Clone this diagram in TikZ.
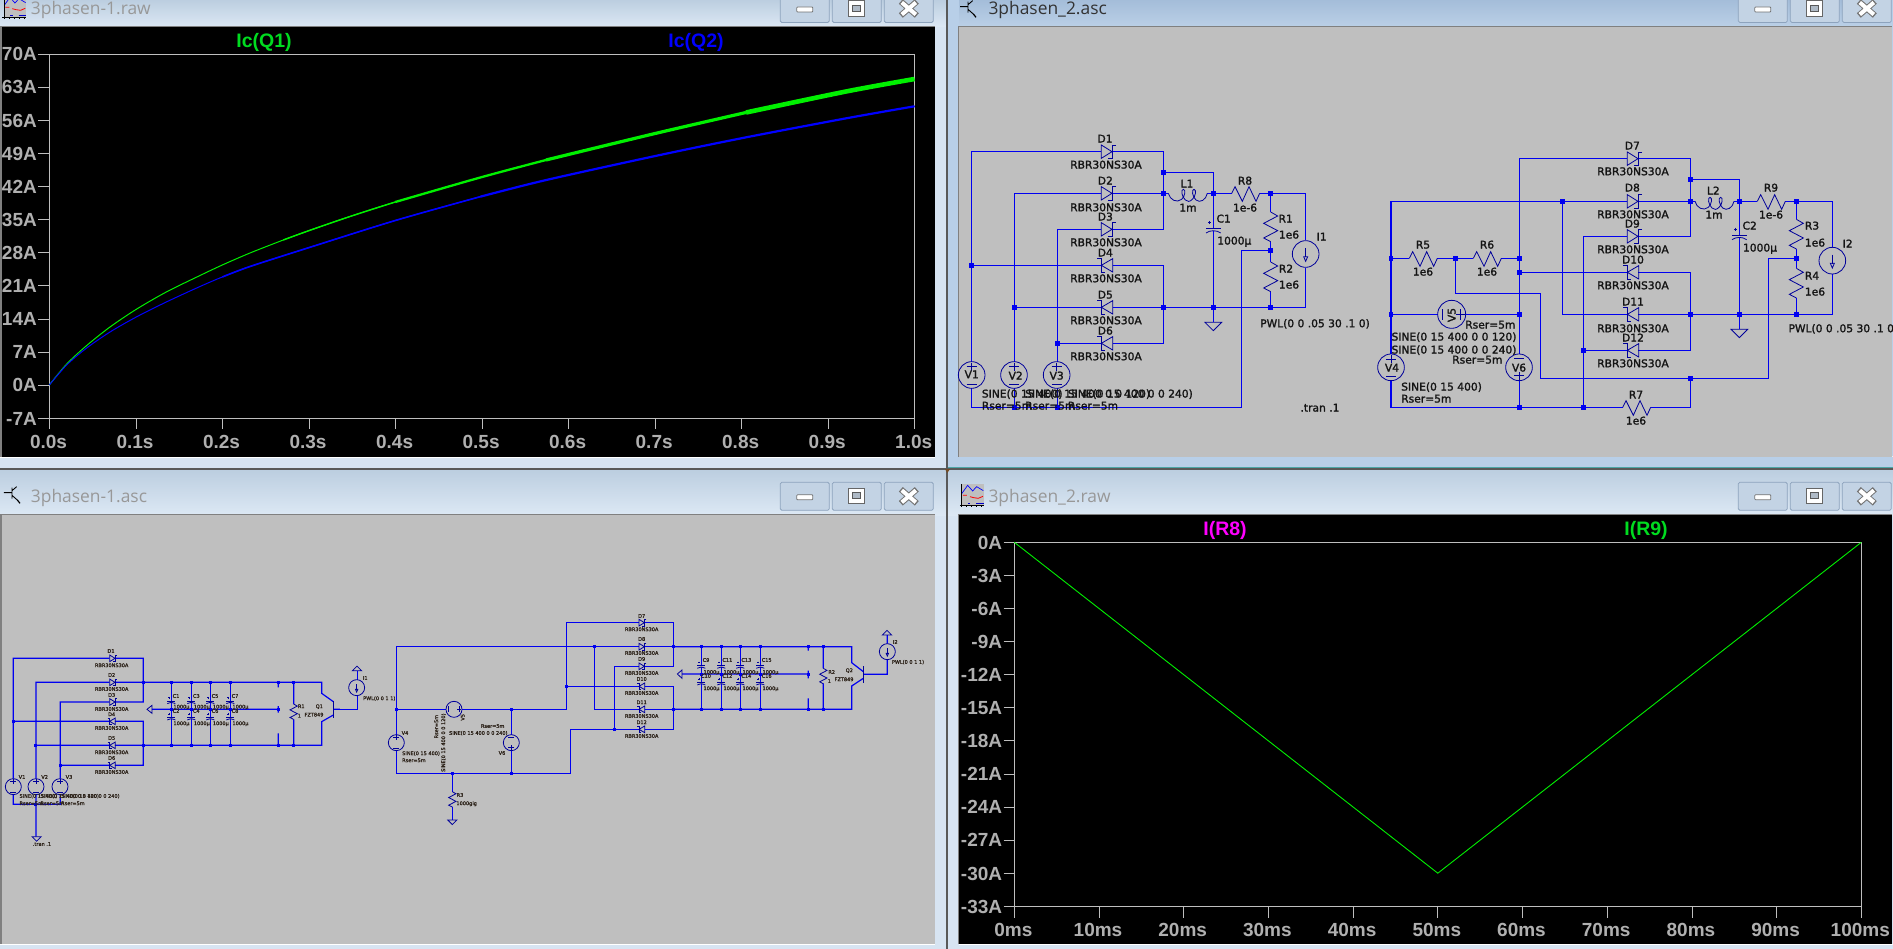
\documentclass[tikz,border=0pt]{standalone}
\usepackage{fontspec}
\setmainfont{Liberation Sans}
\newfontfamily\schfont[FakeBold=1.6]{DejaVu Sans}
\newfontfamily\tifont{Open Sans}
\definecolor{frameL}{HTML}{D7E4F2}
\definecolor{frameA}{HTML}{B8CFE8}
\definecolor{tbTop}{HTML}{BCCEE0}
\definecolor{tbBot}{HTML}{DCE8F4}
\definecolor{taTop}{HTML}{A4BDD9}
\definecolor{taBot}{HTML}{BBD0E7}
\definecolor{schbg}{HTML}{BFBFBF}
\definecolor{wireb}{HTML}{0000F0}
\definecolor{symb}{HTML}{00009A}
\definecolor{axisg}{HTML}{BEBEBE}
\definecolor{labg}{HTML}{B0B0B0}
\definecolor{tgreen}{HTML}{00DC20}
\definecolor{pgreen}{HTML}{00F000}
\definecolor{tmag}{HTML}{FF00FF}
\definecolor{txtd}{HTML}{141414}
\definecolor{btnf}{HTML}{C3D3E4}
\definecolor{btnb}{HTML}{8DA3BD}
\definecolor{ttlg}{HTML}{989898}
\newcounter{tn}
\tikzset{
 wire/.style={draw=wireb,line width=1.2pt},
 sym/.style={draw=symb,line width=0.8pt},
 jct/.style={rectangle,fill=wireb,inner sep=0pt,minimum size=4.4pt},
 jcts/.style={rectangle,fill=wireb,inner sep=0pt,minimum size=3pt},
 schtxt/.style={inner sep=0pt,text=txtd,font=\schfont\fontsize{10.7}{12}\selectfont,text height=7.8pt,text depth=0pt},
 smtxt/.style={inner sep=0pt,text=txtd!85!brown,font=\schfont\fontsize{5}{6}\selectfont,text height=3.6pt,text depth=0pt},
 ylab/.style={inner sep=0pt,anchor=east,text=labg,font=\bfseries\fontsize{19}{20}\selectfont,text height=13.6pt,text depth=0pt},
 xlab/.style={inner sep=0pt,anchor=center,text=labg,font=\bfseries\fontsize{19}{20}\selectfont,text height=13.6pt,text depth=0pt},
 ttl/.style={inner sep=0pt,font=\bfseries\fontsize{19.5}{21}\selectfont,text height=14pt,text depth=0pt},
 axisl/.style={draw=axisg,line width=0.8pt},
 wintitle/.style={inner sep=0pt,anchor=west,font=\tifont\fontsize{17.4}{20}\selectfont},
}
\newcommand\TT[4]{\stepcounter{tn}\node[#1] (t\arabic{tn}) at (#2,#3) {#4};}
\newcommand\JJ[2]{\foreach \p in {#2} {\stepcounter{tn}\node[#1] (j\arabic{tn}) at \p {};}}
\newcommand\DF[3]{\begin{scope}[shift={(#2,#3)},scale=#1]
 \draw[sym] (0,-20)--(32,0)--(0,20)--cycle;
 \draw[sym] (44,-20)--(32,-20)--(32,20)--(20,20);
 \end{scope}}
\newcommand\DR[3]{\begin{scope}[shift={(#2,#3)},scale=#1]
 \draw[sym] (34,-20)--(0,0)--(34,20)--cycle;
 \draw[sym] (-12,-20)--(0,-20)--(0,20)--(12,20);
 \end{scope}}
\newcommand\RH[2]{\draw[sym] (#1,#2)++(0,0) -- ++(10,-20) -- ++(22,44) -- ++(20,-44) -- ++(21,44) -- ++(11,-24);}
\newcommand\RV[3]{\begin{scope}[shift={(#2,#3)},scale=#1]
 \draw[sym] (0,0)--(21,12)--(-21,34)--(21,56)--(-21,78)--(0,89);
 \end{scope}}
\newcommand\CP[3]{\begin{scope}[shift={(#2,#3)},scale=#1]
 \draw[sym] (-22,0)--(22,0);
 \draw[sym] (-22,14) .. controls (-10,5) and (10,5) .. (22,14);
 \draw[sym] (-16,-17)--(-6,-17) (-11,-22)--(-11,-12);
 \end{scope}}
\newcommand\GN[4]{\begin{scope}[shift={(#2,#3)},scale=#1]
 \draw[sym] (-25,0)--(25,0)--(0,#4)--cycle;
 \end{scope}}
% voltage source: scale, x, y, rotation
\newcommand\VS[4]{\begin{scope}[shift={(#2,#3)},rotate=#4,scale=#1]
 \draw[sym] (0,0) circle (40);
 \draw[sym] (-15,-25)--(15,-25) (0,-37)--(0,-13);
 \draw[sym] (-15,27)--(15,27);
 \end{scope}}
\newcommand\IS[3]{\begin{scope}[shift={(#2,#3)},scale=#1]
 \draw[sym] (0,0) circle (40);
 \draw[sym] (0,-18)--(0,10);
 \draw[sym] (-6,8)--(6,8)--(0,22)--cycle;
 \end{scope}}
\newcommand\LL[2]{\begin{scope}[shift={(#1,#2)}]
 \draw[sym] (0,0) .. controls (5,20) and (25,30) .. (40,18) .. controls (50,10) and (53,-12) .. (45,-12) .. controls (37,-12) and (40,10) .. (51,20) .. controls (58,26) and (64,26) .. (72,18) .. controls (82,10) and (85,-12) .. (77,-12) .. controls (69,-12) and (72,10) .. (83,20) .. controls (95,30) and (113,20) .. (117,0);
 \end{scope}}
\newcommand\Btns[1]{\begin{scope}[shift={(0,#1)}]
 \foreach \bx/\kind in {0/0,52/1,104/2}{
  \draw[fill=btnf,draw=btnb,line width=0.8pt,rounded corners=1.5pt] (\bx,0) rectangle (\bx+49,28);
 }
 \draw[fill=white,draw=gray!90!black,line width=0.8pt,rounded corners=0.8pt] (16.5,12.5) rectangle (32.5,17.5);
 \draw[fill=white,draw=gray!80!black,line width=0.9pt] (68,6) rectangle (84,21.5);
 \draw[fill=btnf!70!gray,draw=gray!70!black,line width=0.9pt] (72,10.5) rectangle (80,16.5);
 \draw[draw=gray!90!black,line width=6pt] (120.5,7) -- (136.5,21) (136.5,7) -- (120.5,21);
 \draw[draw=white,line width=4pt] (121.5,8) -- (135.5,20) (135.5,8) -- (121.5,20);
 \end{scope}}
\newcommand\WaveIcon[2]{\begin{scope}[shift={(#1,#2)},x=0.3333pt,y=-0.3333pt]
 \fill[schbg] (785,312) rectangle (852,376);
 \draw[draw=blue,line width=0.7pt] (786,340)--(803,316)--(818,333)--(830,320)--(850,332);
 \draw[draw=red,line width=0.8pt] (789,346)--(801,346) (810,350)--(821,353)--(835,355)--(849,349);
 \draw[draw=blue!80!black,line width=0.9pt] (804,369)--(811,369) (829,370)--(851,370);
 \draw[draw=black,line width=0.6pt] (785,312)--(785,381) (780,376)--(852,376) (800,376)--(800,381) (815,376)--(815,381) (830,376)--(830,381) (845,376)--(845,381);
 \end{scope}}
\newcommand\TrIcon[2]{\begin{scope}[shift={(#1,#2)},x=0.3333pt,y=-0.3333pt]
 \draw[draw=black,line width=0.9pt] (30,20)--(52,20) (54,5)--(54,38) (54,14)--(68,2) (54,28)--(72,44);
 \draw[draw=black,line width=1.2pt] (70,42)--(78,52);
 \end{scope}}
\begin{document}
\begin{tikzpicture}[x=1pt,y=-1pt]
\useasboundingbox (0,0) rectangle (1893,949);
\fill[frameL] (0,0) rectangle (1893,949);
% ---------- window chrome
\shade[top color=tbTop,bottom color=tbBot] (0,0) rectangle (946,27);
\shade[top color=taTop,bottom color=taBot] (948,0) rectangle (1893,27);
\fill[frameA] (948,0) rectangle (959,467);
\fill[frameA] (1891,0) rectangle (1893,467);
\fill[frameA] (948,457) rectangle (1893,467);
\fill[white!70!frameA] (959,456.3) rectangle (1893,457.3);
\draw[draw=teal!70!white,line width=0.8pt] (948,467) -- (1893,467);
\shade[top color=tbTop,bottom color=tbBot] (0,470) rectangle (946,515);
\shade[top color=tbTop,bottom color=tbBot] (948,470) rectangle (1893,515);
\fill[gray!70!black] (0,468) rectangle (1893,470);
\fill[gray!70!black] (946.2,0) rectangle (948.2,949);
\fill[brown!60!black] (945,469) -- (950,469) -- (947.3,473) -- cycle;
% panes
\fill[black] (2,27) rectangle (935,456.5);
\fill[schbg] (959,27) rectangle (1891.5,456.5);
\fill[schbg] (2,515) rectangle (935,944);
\fill[black] (959,515) rectangle (1892,944);
\foreach \ax/\ay/\bx/\by in {0/26/935/27,958/26/1891.5/27,0/514/935/515,958/514/1892/515}{\fill[gray] (\ax,\ay) rectangle (\bx,\by);}
\fill[gray] (0,27) rectangle (2,456.5);
\fill[gray] (0,515) rectangle (2,944);
\fill[gray] (958,27) rectangle (959,456.5);
\fill[gray] (958,515) rectangle (959,944);
\fill[white] (0,456.5) rectangle (935,458);
\fill[white] (0,944) rectangle (935,945.3);
\fill[white] (959,944) rectangle (1893,945.3);
% titles
\WaveIcon{-257.7}{-108}
\node[wintitle,text=ttlg] (title1) at (30.7,10) {3phasen-1.raw};
\TrIcon{950}{0}
\node[wintitle,text=black!80] (title2) at (988.3,10) {3phasen\_2.asc};
\TrIcon{-6}{486}
\node[wintitle,text=ttlg] (title3) at (30.7,498) {3phasen-1.asc};
\WaveIcon{700}{380}
\node[wintitle,text=ttlg] (title4) at (988.3,498) {3phasen\_2.raw};
\begin{scope}[shift={(780.3,-5.5)}]\Btns{0}\end{scope}
\begin{scope}[shift={(1738.3,-5.5)}]\Btns{0}\end{scope}
\begin{scope}[shift={(780.3,482.3)}]\Btns{0}\end{scope}
\begin{scope}[shift={(1738.3,482.3)}]\Btns{0}\end{scope}

% ---------- plot 1
\draw[axisl] (49.5,54) rectangle (914.7,418.3);
\foreach \v [count=\i from 0] in {70A,63A,56A,49A,42A,35A,28A,21A,14A,7A,0A,-7A}{
 \pgfmathsetmacro\yy{54+\i*33.12}
 \draw[axisl] (38.3,\yy) -- (49.5,\yy);
 \node[ylab] (pa\i) at (37,\yy) {\v};
}
\foreach \v [count=\i from 0] in {0.0s,0.1s,0.2s,0.3s,0.4s,0.5s,0.6s,0.7s,0.8s,0.9s,1.0s}{
 \pgfmathsetmacro\xx{49.5+\i*86.52}
 \draw[axisl] (\xx,418.3) -- (\xx,429.3);
 \node[xlab] (pb\i) at (\xx-1,441.7) {\v};
}
\node[ttl,text=tgreen] (ic1) at (264,40.7) {Ic(Q1)};
\node[ttl,text=blue] (ic2) at (696,40.7) {Ic(Q2)};
\draw[draw=pgreen,line width=1pt,line join=round] plot[smooth] coordinates {(49.3,385)(66.7,364)(86.7,345.5)(110,327)(136.3,309.3)(166.3,292)(200,275.5)(222.3,265)(250,253)(283.3,240)(309.3,230.5)(350,216.5)(395.3,202)(480.3,177.5)(546,160)(653,134)(746,112.5)(846,91.5)(914.5,79)};
\draw[draw=pgreen,line width=1.4pt] plot[smooth] coordinates {(283.3,240)(309.3,230.5)(350,216.5)(395.3,202)};
\draw[draw=pgreen,line width=2.3pt] plot[smooth] coordinates {(395.3,202)(480.3,177.5)(546,160)};
\draw[draw=pgreen,line width=3.2pt] plot[smooth] coordinates {(546,160)(653,134)(746,112.5)};
\draw[draw=pgreen,line width=4.6pt] plot[smooth] coordinates {(746,112.5)(846,91.5)(914.5,79)};
\draw[draw=blue,line width=1pt] plot[smooth] coordinates {(49.3,385)(66.7,365)(86.7,348)(110,332)(136.3,317)(166.3,302)(200,286.5)(222.3,277)(250,266.5)(309.3,247.5)(395.3,220.5)(480.3,196.7)(546.3,180)(660,155)(746.3,137.3)(846.3,118.3)(914.5,106.3)};
\draw[draw=blue,line width=1.6pt] plot[smooth] coordinates {(222.3,277)(250,266.5)(309.3,247.5)(395.3,220.5)(480.3,196.7)};
\draw[draw=blue,line width=2.2pt] plot[smooth] coordinates {(480.3,196.7)(546.3,180)(660,155)(746.3,137.3)(846.3,118.3)(914.5,106.3)};

% ---------- plot 2
\draw[axisl] (1014.3,542.3) rectangle (1861.3,906.3);
\foreach \v [count=\i from 0] in {0A,-3A,-6A,-9A,-12A,-15A,-18A,-21A,-24A,-27A,-30A,-33A}{
 \pgfmathsetmacro\yy{542.3+\i*33.09}
 \draw[axisl] (1003.5,\yy) -- (1014.3,\yy);
 \node[ylab] (qa\i) at (1002.3,\yy) {\v};
}
\foreach \v [count=\i from 0] in {0ms,10ms,20ms,30ms,40ms,50ms,60ms,70ms,80ms,90ms,100ms}{
 \pgfmathsetmacro\xx{1014.3+\i*84.7}
 \draw[axisl] (\xx,906.3) -- (\xx,917.5);
 \node[xlab] (qb\i) at (\xx-1,930) {\v};
}
\node[ttl,text=tmag] (ir8) at (1225,528) {I(R8)};
\node[ttl,text=tgreen] (ir9) at (1646,528) {I(R9)};
\draw[draw=pgreen,line width=0.9pt] (1014.3,542.3) -- (1437.8,873.2) -- (1861.3,542.3);

% ---------- schematic 2, left group (zoom coordinates)
\begin{scope}[shift={(950,0)},x=0.33333pt,y=-0.33333pt]
\draw[wire] (65,1085)--(65,455)--(454,455) (486,455)--(640,455)--(640,688)--(486,688)
 (640,517)--(790,517)--(790,685) (790,692)--(790,967)
 (193,1085)--(193,580)--(454,580) (486,580)--(655,580) (772,580)--(845,580) (929,580)--(1067,580)--(1067,721)
 (322,1085)--(322,688)--(454,688)
 (65,796)--(454,796) (488,796)--(640,796)--(640,1030)--(488,1030) (322,1030)--(454,1030)
 (193,922)--(454,922) (488,922)--(1067,922)--(1067,803)
 (962,580)--(962,636) (962,725)--(962,786) (962,875)--(962,922)
 (962,751)--(875,751)--(875,1222)--(65,1222)--(65,1165) (193,1165)--(193,1222) (322,1165)--(322,1222);
\DF{1}{454}{455}\DF{1}{454}{580}\DF{1}{454}{688}
\DR{1}{454}{796}\DR{1}{454}{922}\DR{1}{454}{1030}
\LL{655}{580}
\RH{845}{580}
\RV{1}{962}{636}\RV{1}{962}{786}
\CP{1}{790}{685}
\GN{1}{790}{967}{25}
\VS{1}{65}{1125}{0}\VS{1}{192}{1125}{0}\VS{1}{320}{1125}{0}
\IS{1}{1067}{762}
\JJ{jct}{(640,517),(640,580),(790,580),(962,580),(962,751),(65,796),(193,922),(640,922),(790,922),(962,922),(322,1030),(193,1222),(322,1222)}
\TT{schtxt}{465}{416}{D1}\TT{schtxt}{468}{494}{RBR30NS30A}
\TT{schtxt}{466}{542}{D2}\TT{schtxt}{468}{622}{RBR30NS30A}
\TT{schtxt}{466}{650}{D3}\TT{schtxt}{468}{727}{RBR30NS30A}
\TT{schtxt}{466}{758}{D4}\TT{schtxt}{468}{835}{RBR30NS30A}
\TT{schtxt}{466}{884}{D5}\TT{schtxt}{468}{961}{RBR30NS30A}
\TT{schtxt}{466}{992}{D6}\TT{schtxt}{468}{1069}{RBR30NS30A}
\TT{schtxt}{711}{551}{L1}\TT{schtxt}{714}{623}{1m}
\TT{schtxt}{885}{542}{R8}\TT{schtxt}{885}{623}{1e-6}
\TT{schtxt}{821}{656}{C1}\TT{schtxt}{853}{722}{1000µ}
\TT{schtxt}{1007}{656}{R1}\TT{schtxt}{1017}{704}{1e6}
\TT{schtxt}{1008}{806}{R2}\TT{schtxt}{1017}{854}{1e6}
\TT{schtxt}{1115}{710}{I1}
\TT{schtxt}{1095}{970}{PWL(0 0 .05 30 .1 0)}
\TT{schtxt}{1110}{1223}{.tran .1}
\TT{schtxt}{65}{1123}{V1}\TT{schtxt}{197}{1127}{V2}\TT{schtxt}{320}{1127}{V3}
\TT{schtxt,anchor=west}{95}{1181}{SINE(0 15 400)}
\TT{schtxt,anchor=west}{225}{1181}{SINE(0 15 400 0 0 120)}
\TT{schtxt,anchor=west}{353}{1181}{SINE(0 15 400 0 0 240)}
\TT{schtxt,anchor=west}{95}{1217}{Rser=5m}
\TT{schtxt,anchor=west}{225}{1217}{Rser=5m}
\TT{schtxt,anchor=west}{353}{1217}{Rser=5m}
\end{scope}

% ---------- schematic 2, right group
\begin{scope}[shift={(1380,100)},x=0.33333pt,y=-0.33333pt]
\draw[wire] (33,762)--(33,304)--(742,304) (774,304)--(945,304) (1062,304)--(1132,304) (1216,304)--(1357,304)--(1357,442)
 (418,762)--(418,176)--(742,176) (774,176)--(932,176)--(932,409)--(774,409)
 (932,238)--(1078,238)--(1078,405) (1078,412)--(1078,688)
 (1357,522)--(1357,643)--(775,643) (742,643)--(547,643)--(547,304)
 (1249,304)--(1249,358) (1249,447)--(1249,505) (1249,594)--(1249,643)
 (1249,475)--(1165,475)--(1165,835)--(481,835)--(481,580)--(227,580)--(227,475)
 (33,475)--(88,475) (172,475)--(280,475) (364,475)--(418,475)
 (418,517)--(742,517) (775,517)--(932,517)--(932,751)--(775,751) (610,751)--(742,751)
 (610,922)--(610,409)--(742,409)
 (33,643)--(173,643) (257,643)--(418,643)
 (33,842)--(33,922)--(728,922) (812,922)--(932,922)--(932,835) (418,842)--(418,922);
\DF{1}{742}{176}\DF{1}{742}{304}\DF{1}{742}{409}
\DR{1}{742}{517}\DR{1}{742}{643}\DR{1}{742}{751}
\LL{945}{304}
\RH{88}{475}\RH{280}{475}\RH{1132}{304}\RH{728}{922}
\RV{1}{1249}{358}\RV{1}{1249}{505}
\CP{1}{1078}{405}
\GN{1}{1078}{688}{25}
\VS{1}{33}{802}{0}\VS{1}{417}{802}{180}
\VS{1.05}{215}{643}{-90}
\IS{1}{1357}{482}
\JJ{jct}{(932,238),(547,304),(932,304),(1078,304),(1249,304),(33,475),(227,475),(418,475),(1249,475),(418,517),(33,643),(418,643),(932,643),(1078,643),(1249,643),(610,751),(932,835),(418,922),(610,922)}
\TT{schtxt}{757}{137}{D7}\TT{schtxt}{759}{214}{RBR30NS30A}
\TT{schtxt}{757}{263}{D8}\TT{schtxt}{759}{343}{RBR30NS30A}
\TT{schtxt}{757}{371}{D9}\TT{schtxt}{759}{448}{RBR30NS30A}
\TT{schtxt}{759}{479}{D10}\TT{schtxt}{759}{556}{RBR30NS30A}
\TT{schtxt}{759}{605}{D11}\TT{schtxt}{759}{685}{RBR30NS30A}
\TT{schtxt}{759}{713}{D12}\TT{schtxt}{759}{790}{RBR30NS30A}
\TT{schtxt}{1000}{272}{L2}\TT{schtxt}{1002}{344}{1m}
\TT{schtxt}{1173}{263}{R9}\TT{schtxt}{1173}{344}{1e-6}
\TT{schtxt}{1109}{377}{C2}\TT{schtxt}{1140}{443}{1000µ}
\TT{schtxt}{1296}{377}{R3}\TT{schtxt}{1305}{428}{1e6}
\TT{schtxt}{1296}{527}{R4}\TT{schtxt}{1305}{575}{1e6}
\TT{schtxt}{1403}{431}{I2}
\TT{schtxt,anchor=west}{1225}{685}{PWL(0 0 .05 30 .1 0)}
\TT{schtxt}{129}{434}{R5}\TT{schtxt}{129}{515}{1e6}
\TT{schtxt}{321}{434}{R6}\TT{schtxt}{321}{515}{1e6}
\TT{schtxt}{331}{674}{Rser=5m}
\TT{schtxt}{222}{710}{SINE(0 15 400 0 0 120)}
\TT{schtxt}{222}{749}{SINE(0 15 400 0 0 240)}
\TT{schtxt}{292}{779}{Rser=5m}
\TT{schtxt}{36}{803}{V4}\TT{schtxt}{417}{803}{V6}
\TT{schtxt,rotate=90}{215}{645}{V5}
\TT{schtxt,anchor=west}{63}{860}{SINE(0 15 400)}
\TT{schtxt,anchor=west}{63}{896}{Rser=5m}
\TT{schtxt}{768}{884}{R7}\TT{schtxt}{768}{962}{1e6}
\end{scope}

% ---------- schematic 1, left part
\begin{scope}[shift={(0,630)},x=0.33333pt,y=-0.33333pt]
\draw[wire] (40,446)--(40,85)--(328,85) (345,85)--(430,85)--(430,216)--(345,216)
 (108,446)--(108,157)--(328,157) (345,157)--(965,157)--(965,190)--(1000,215)
 (181,446)--(181,216)--(328,216)
 (40,274)--(328,274) (345,274)--(430,274)--(430,406)--(345,406) (181,406)--(328,406)
 (108,346)--(328,346) (345,346)--(965,346)--(965,275)--(1000,255)
 (40,494)--(40,523)--(181,523)--(181,494) (108,494)--(108,620)
 (456,238)--(835,238) (835,157)--(835,172) (835,228)--(835,248) (835,310)--(835,346)
 (881,157)--(881,222) (881,268)--(881,346)
 (1000,238)--(1020,238);
\foreach \cx in {514,574,631,691}{
 \draw[wire] (\cx,157)--(\cx,213) (\cx,217)--(\cx,262) (\cx,266)--(\cx,346);
 \CP{0.55}{\cx}{213}\CP{0.55}{\cx}{262}
}
\foreach \dy in {85,157,216}{\DF{0.5}{329}{\dy}}
\foreach \dy in {274,346,406}{\DR{0.5}{329}{\dy}}
\draw[sym] (456,226)--(441,238)--(456,250)--cycle;
\RV{0.52}{881}{222}
\draw[draw=symb,line width=1pt] (1000,212)--(1000,264);
\VS{0.6}{40}{470}{0}\VS{0.6}{108}{470}{0}\VS{0.6}{180}{470}{0}
\GN{0.55}{110}{620}{25}
\JJ{jcts}{(430,157),(514,157),(574,157),(631,157),(691,157),(835,157),(881,157),(514,238),(574,238),(631,238),(691,238),(835,238),(40,274),(108,346),(430,346),(514,346),(574,346),(631,346),(691,346),(835,346),(881,346),(181,406),(108,523)}
\TT{smtxt}{333}{63}{D1}\TT{smtxt}{335}{106}{RBR30NS30A}
\TT{smtxt}{335}{135}{D2}\TT{smtxt}{335}{177}{RBR30NS30A}
\TT{smtxt}{335}{195}{D3}\TT{smtxt}{335}{237}{RBR30NS30A}
\TT{smtxt}{335}{253}{D4}\TT{smtxt}{335}{294}{RBR30NS30A}
\TT{smtxt}{335}{324}{D5}\TT{smtxt}{335}{367}{RBR30NS30A}
\TT{smtxt}{335}{384}{D6}\TT{smtxt}{335}{426}{RBR30NS30A}
\TT{smtxt}{66}{441}{V1}\TT{smtxt}{134}{441}{V2}\TT{smtxt}{207}{441}{V3}
\TT{smtxt,anchor=west}{58}{498}{SINE(0 15 400)}
\TT{smtxt,anchor=west}{121}{498}{SINE(0 15 400 0 0 120)}
\TT{smtxt,anchor=west}{183}{498}{SINE(0 15 400 0 0 240)}
\TT{smtxt,anchor=west}{58}{520}{Rser=5m}
\TT{smtxt,anchor=west}{121}{520}{Rser=5m}
\TT{smtxt,anchor=west}{183}{520}{Rser=5m}
\TT{smtxt}{126}{642}{.tran .1}
\foreach \n/\nn/\tx/\sx in {C1/C2/528/520,C3/C4/589/581,C5/C6/645/638,C7/C8/705/697}{
 \TT{smtxt}{\tx}{198}{\n}\TT{smtxt,anchor=west}{\sx}{230}{1000µ}
 \TT{smtxt}{\tx}{243}{\nn}\TT{smtxt,anchor=west}{\sx}{280}{1000µ}
}
\TT{smtxt}{904}{229}{R1}\TT{smtxt}{898}{257}{1}
\TT{smtxt}{958}{229}{Q1}\TT{smtxt}{942}{254}{FZT849}
\end{scope}

% ---------- schematic 1, middle
\begin{scope}[shift={(340,600)},x=0.33333pt,y=-0.33333pt]
\draw[wire] (0,328)--(52,328)--(52,287) (52,239)--(52,212)
 (169,404)--(169,140)--(896,140) (914,140)--(1000,140)
 (169,328)--(318,328) (366,328)--(680,328)--(680,68)--(896,68)
 (914,68)--(1000,68)--(1000,199)--(914,199)
 (763,140)--(763,328)--(896,328) (914,328)--(1000,328)
 (823,388)--(823,199)--(896,199)
 (680,259)--(896,259) (914,259)--(1000,259)--(1000,388)--(914,388)
 (169,452)--(169,520)--(691,520)--(691,388)--(896,388)
 (514,328)--(514,404) (514,452)--(514,520)
 (337,520)--(337,575) (337,620)--(337,660);
\foreach \dy in {68,140,199}{\DF{0.5}{897}{\dy}}
\foreach \dy in {259,328,388}{\DR{0.5}{897}{\dy}}
\IS{0.6}{50}{263}
\GN{0.55}{51}{212}{-25}
\VS{0.6}{169}{428}{0}\VS{0.6}{514}{428}{180}\VS{0.6}{342}{328}{-90}
\RV{0.52}{337}{575}
\GN{0.55}{337}{660}{25}
\JJ{jcts}{(169,328),(514,328),(680,259),(763,140),(1000,140),(1000,328),(823,388),(514,520),(337,520)}
\TT{smtxt}{76}{234}{I1}\TT{smtxt,anchor=west}{69}{295}{PWL(0 0 1 1)}
\TT{smtxt}{905}{48}{D7}\TT{smtxt}{905}{88}{RBR30NS30A}
\TT{smtxt}{905}{117}{D8}\TT{smtxt}{905}{159}{RBR30NS30A}
\TT{smtxt}{905}{177}{D9}\TT{smtxt}{905}{219}{RBR30NS30A}
\TT{smtxt}{905}{237}{D10}\TT{smtxt}{905}{279}{RBR30NS30A}
\TT{smtxt}{905}{307}{D11}\TT{smtxt}{905}{348}{RBR30NS30A}
\TT{smtxt}{905}{367}{D12}\TT{smtxt}{905}{408}{RBR30NS30A}
\TT{smtxt}{195}{399}{V4}
\TT{smtxt,anchor=west}{186}{460}{SINE(0 15 400)}
\TT{smtxt,anchor=west}{186}{481}{Rser=5m}
\TT{smtxt,rotate=90}{368}{352}{V5}
\TT{smtxt,rotate=90}{289}{380}{Rser=5m}
\TT{smtxt,rotate=90}{310}{428}{SINE(0 15 400 0 0 120)}
\TT{smtxt}{486}{459}{V6}
\TT{smtxt}{458}{378}{Rser=5m}
\TT{smtxt}{415}{399}{SINE(0 15 400 0 0 240)}
\TT{smtxt}{360}{585}{R3}\TT{smtxt}{380}{610}{1000gig}
\end{scope}

% ---------- schematic 1, right part
\begin{scope}[shift={(600,600)},x=0.33333pt,y=-0.33333pt]
\draw[wire] (220,140)--(755,140)--(755,188)--(790,215)
 (220,328)--(755,328)--(755,258)--(790,235)
 (246,222)--(625,222) (625,140)--(625,152) (625,212)--(625,235) (625,295)--(625,328)
 (670,140)--(670,205) (670,250)--(670,328)
 (790,223)--(862,223)--(862,179) (862,131)--(862,105);
\foreach \cx in {304,364,421,481}{
 \draw[wire] (\cx,140)--(\cx,197) (\cx,201)--(\cx,247) (\cx,251)--(\cx,328);
 \CP{0.55}{\cx}{197}\CP{0.55}{\cx}{247}
}
\draw[sym] (246,210)--(232,222)--(246,235)--cycle;
\RV{0.52}{670}{205}
\draw[draw=symb,line width=1pt] (790,198)--(790,248);
\IS{0.6}{862}{155}
\GN{0.55}{861}{105}{-25}
\JJ{jcts}{(304,140),(364,140),(421,140),(481,140),(625,140),(670,140),(304,222),(364,222),(421,222),(481,222),(625,222),(304,328),(364,328),(421,328),(481,328),(625,328),(670,328)}
\foreach \n/\nn/\tx/\sx in {C9/C10/318/310,C11/C12/382/370,C13/C14/439/427,C15/C16/500/487}{
 \TT{smtxt}{\tx}{180}{\n}\TT{smtxt,anchor=west}{\sx}{216}{1000µ}
 \TT{smtxt}{\tx}{228}{\nn}\TT{smtxt,anchor=west}{\sx}{265}{1000µ}
}
\TT{smtxt}{695}{216}{R2}\TT{smtxt}{688}{243}{1}
\TT{smtxt}{748}{211}{Q2}\TT{smtxt}{732}{238}{FZT849}
\TT{smtxt}{886}{126}{I2}\TT{smtxt}{924}{186}{PWL(0 0 1 1)}
\end{scope}
\end{tikzpicture}
\end{document}
